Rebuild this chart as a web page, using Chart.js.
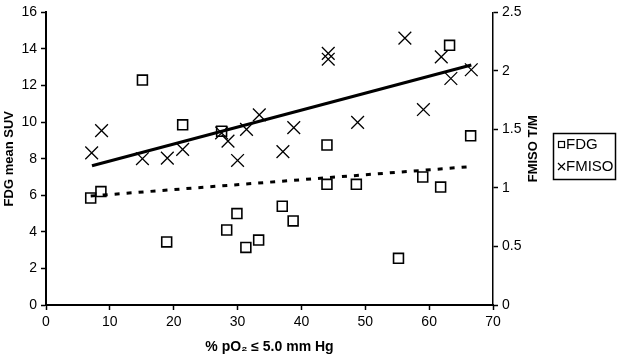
<!DOCTYPE html>
<html>
<head>
<meta charset="utf-8">
<script src="https://cdn.jsdelivr.net/npm/chart.js@4.4.1/dist/chart.umd.min.js"></script>
<style>
  html, body { margin: 0; padding: 0; background: #fff; }
  canvas { display: block; }
</style>
</head>
<body>
<canvas id="c" width="619" height="360"></canvas>
<script>
// ---- data ----
const fdgX  = [7.0, 8.6, 15.1, 18.9, 21.4, 27.5, 28.3, 29.9, 31.3, 33.3, 37.0, 38.7, 44.0, 44.0, 48.6, 55.2, 59.0, 61.8, 63.2, 66.5];
const fdgY  = [5.85, 6.2, 12.3, 3.45, 9.85, 9.5, 4.1, 5.0, 3.15, 3.55, 5.4, 4.6, 8.75, 6.6, 6.6, 2.55, 7.0, 6.45, 14.2, 9.25];
const fmisoX = [7.15, 8.7, 15.1, 19.0, 21.4, 27.5, 28.5, 30.0, 31.4, 33.4, 37.1, 38.8, 44.2, 44.2, 48.8, 56.2, 59.1, 61.9, 63.4, 66.6];
const fmisoY = [1.30, 1.49, 1.25, 1.255, 1.33, 1.47, 1.40, 1.235, 1.50, 1.625, 1.31, 1.515, 2.15, 2.10, 1.56, 2.28, 1.67, 2.12, 1.935, 2.01];
const fdgTrendX = [7.0, 66.6];
const fdgTrendY = [5.96, 7.57];
const fmisoTrendX = [7.2, 66.6];
const fmisoTrendY = [1.19, 2.05];
const xTicks = [0, 10, 20, 30, 40, 50, 60, 70];
const leftTicks = [0, 2, 4, 6, 8, 10, 12, 14, 16];
const rightTicks = [0, 0.5, 1, 1.5, 2, 2.5];
const seriesNames = ['FDG', 'FMISO'];
const xTitle = '% pO\u2082 \u2264 5.0 mm Hg';
const leftTitle = 'FDG mean SUV';
const rightTitle = 'FMISO T/M';

const pts = (xs, ys) => xs.map((x, i) => ({ x: x, y: ys[i] }));
const FONT = "'Liberation Sans', Arial, sans-serif";

const extras = {
  id: 'extras',
  afterDraw(chart) {
    const ctx = chart.ctx;
    const area = chart.chartArea;
    ctx.save();
    // right axis title (reads bottom to top)
    ctx.fillStyle = '#000';
    ctx.font = 'bold 13px ' + FONT;
    ctx.textAlign = 'center';
    ctx.textBaseline = 'middle';
    ctx.translate(533, (area.top + area.bottom) / 2 - 10);
    ctx.rotate(-Math.PI / 2);
    ctx.fillText(rightTitle, 0, 0);
    ctx.restore();

    // legend
    ctx.save();
    ctx.strokeStyle = '#000';
    ctx.lineWidth = 1.5;
    ctx.strokeRect(553.5, 133.5, 62, 46);
    ctx.lineWidth = 1.2;
    ctx.strokeRect(558.5, 141.5, 6, 6);
    ctx.beginPath();
    ctx.moveTo(558, 163); ctx.lineTo(565, 170);
    ctx.moveTo(565, 163); ctx.lineTo(558, 170);
    ctx.stroke();
    ctx.fillStyle = '#000';
    ctx.font = '15px ' + FONT;
    ctx.textAlign = 'left';
    ctx.textBaseline = 'middle';
    ctx.fillText(seriesNames[0], 566, 145);
    ctx.fillText(seriesNames[1], 566, 167);
    ctx.restore();
  }
};

new Chart(document.getElementById('c'), {
  type: 'scatter',
  data: {
    datasets: [
      {
        label: seriesNames[0] + ' trend',
        data: pts(fdgTrendX, fdgTrendY),
        yAxisID: 'y',
        showLine: true,
        pointRadius: 0,
        borderColor: '#000',
        borderWidth: 3,
        borderDash: [5, 7]
      },
      {
        label: seriesNames[1] + ' trend',
        data: pts(fmisoTrendX, fmisoTrendY),
        yAxisID: 'y2',
        showLine: true,
        pointRadius: 0,
        borderColor: '#000',
        borderWidth: 3
      },
      {
        label: seriesNames[0],
        data: pts(fdgX, fdgY),
        yAxisID: 'y',
        pointStyle: 'rect',
        pointRadius: 7,
        pointBorderWidth: 1.6,
        borderColor: '#000',
        backgroundColor: 'rgba(0,0,0,0)'
      },
      {
        label: seriesNames[1],
        data: pts(fmisoX, fmisoY),
        yAxisID: 'y2',
        pointStyle: 'crossRot',
        pointRadius: 9,
        pointBorderWidth: 1.3,
        borderColor: '#000',
        backgroundColor: '#000'
      }
    ]
  },
  options: {
    responsive: false,
    animation: false,
    devicePixelRatio: 1,
    layout: { padding: { top: 7, right: 76, left: 0, bottom: 0 } },
    plugins: { legend: { display: false }, tooltip: { enabled: false } },
    scales: {
      x: {
        type: 'linear',
        min: 0, max: 70,
        afterBuildTicks: s => { s.ticks = xTicks.map(v => ({ value: v })); },
        afterFit: s => { s.height = 55; },
        ticks: { color: '#000', font: { family: FONT, size: 14 }, padding: 4, maxRotation: 0, callback: v => String(v) },
        grid: { display: true, drawOnChartArea: false, drawTicks: true, tickLength: 5, color: '#000', tickWidth: 1.5 },
        border: { display: true, color: '#000', width: 2 },
        title: { display: true, text: xTitle, color: '#000', font: { family: FONT, size: 14, weight: 'bold' }, padding: { top: 6 } }
      },
      y: {
        type: 'linear',
        position: 'left',
        min: 0, max: 16,
        afterBuildTicks: s => { s.ticks = leftTicks.map(v => ({ value: v })); },
        afterFit: s => { s.width = 46; },
        ticks: { color: '#000', font: { family: FONT, size: 14 }, padding: 4, callback: v => String(v) },
        grid: { display: true, drawOnChartArea: false, drawTicks: true, tickLength: 5, color: '#000', tickWidth: 1.5 },
        border: { display: true, color: '#000', width: 2 },
        title: { display: true, text: leftTitle, color: '#000', font: { family: FONT, size: 13, weight: 'bold' }, padding: { top: 2, bottom: 0 } }
      },
      y2: {
        type: 'linear',
        position: 'right',
        min: 0, max: 2.5,
        afterBuildTicks: s => { s.ticks = rightTicks.map(v => ({ value: v })); },
        afterFit: s => { s.width = 50; },
        ticks: { color: '#000', font: { family: FONT, size: 14 }, padding: 4, callback: v => String(v) },
        grid: { display: true, drawOnChartArea: false, drawTicks: true, tickLength: 5, color: '#000', tickWidth: 1.5 },
        border: { display: true, color: '#000', width: 1.5 }
      }
    }
  },
  plugins: [extras]
});
</script>
</body>
</html>
